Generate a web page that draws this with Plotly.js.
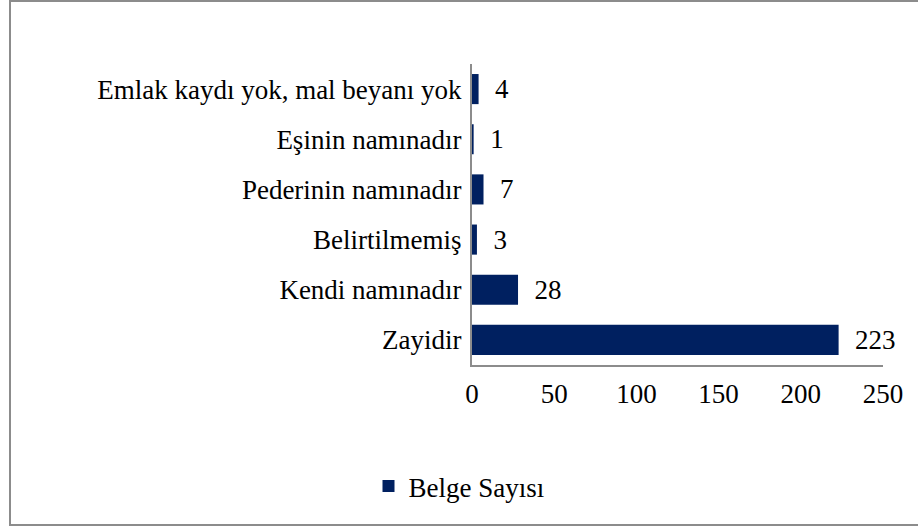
<!DOCTYPE html>
<html>
<head>
<meta charset="utf-8">
<script src="https://cdn.plot.ly/plotly-3.0.1.min.js"></script>
<style>
html,body{margin:0;padding:0;background:#fff;}
#wrap{position:relative;width:918px;height:526px;overflow:hidden;}
#chart{width:918px;height:526px;}
#frame{position:absolute;left:9px;top:0px;width:920px;height:522px;border:2px solid #8c8c8c;pointer-events:none;}
</style>
</head>
<body>
<div id="wrap">
<div id="chart"></div>
<div id="frame"></div>
</div>
<script>
const categories = ["Zayidir", "Kendi namınadır", "Belirtilmemiş", "Pederinin namınadır", "Eşinin namınadır", "Emlak kaydı yok, mal beyanı yok"];
const values = [223, 28, 3, 7, 1, 4];
const seriesName = "Belge Sayısı";
const xTicks = [0, 50, 100, 150, 200, 250];

const font = {family: "Liberation Serif, Times New Roman, serif", size: 27, color: "#000"};

const trace = {
  type: "bar",
  orientation: "h",
  y: categories,
  x: values,
  name: seriesName,
  marker: {color: "#002060"},
  text: values.map(v => "\u00a0\u00a0" + v),
  textposition: "outside",
  textfont: font,
  constraintext: "none",
  cliponaxis: false,
  hoverinfo: "x+y"
};

const layout = {
  width: 918,
  height: 526,
  margin: {l: 472, r: 35, t: 64, b: 161},
  paper_bgcolor: "#fff",
  plot_bgcolor: "#fff",
  font: font,
  bargap: 0.4,
  showlegend: true,
  legend: {orientation: "h", x: 0.5, xref: "container", xanchor: "center", y: 0.075, yref: "container", yanchor: "middle", font: font, itemwidth: 30},
  xaxis: {
    range: [0, 250],
    tickvals: xTicks,
    ticktext: xTicks.map(String),
    showgrid: false,
    zeroline: false,
    showline: true,
    linecolor: "#8c8c8c",
    linewidth: 2,
    ticks: "",
    ticklabelstandoff: 4,
    tickfont: font
  },
  yaxis: {
    showgrid: false,
    zeroline: false,
    showline: true,
    linecolor: "#8c8c8c",
    linewidth: 2,
    ticks: "",
    ticklabelstandoff: 3,
    tickfont: font,
    automargin: false
  }
};

Plotly.newPlot("chart", [trace], layout, {displayModeBar: false, staticPlot: true});
</script>
</body>
</html>
